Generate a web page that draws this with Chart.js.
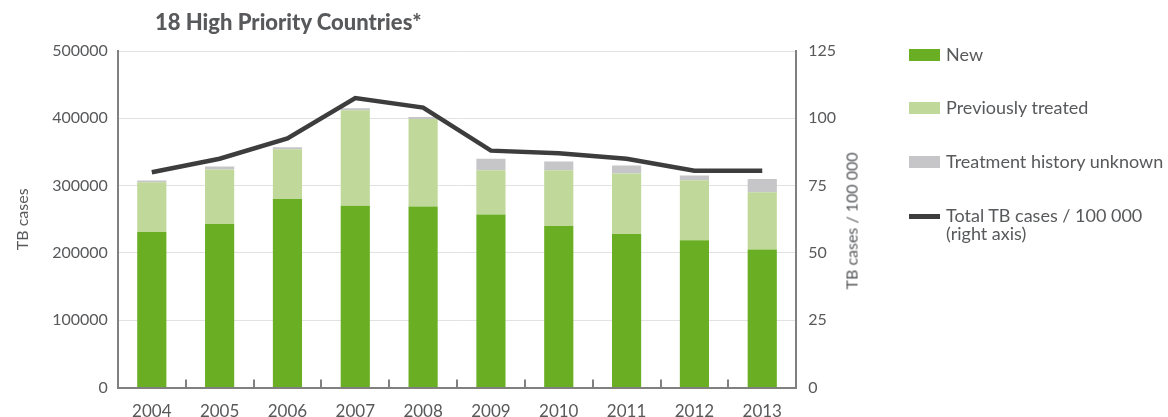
<!DOCTYPE html>
<html>
<head>
<meta charset="utf-8">
<script src="https://cdn.jsdelivr.net/npm/chart.js@4.4.0/dist/chart.umd.min.js"></script>
<style>
  body { margin: 0; background: #fff; }
  #wrap { position: relative; width: 1168px; height: 417px; font-family: Lato, "Open Sans", sans-serif; color: #58595b; }
  #title { position: absolute; left: 155px; top: 8px; font-weight: 900; font-size: 22px; white-space: nowrap; }
  #chartBox { position: absolute; left: 0; top: 0; width: 1168px; height: 417px; }
  #rightTitle { position: absolute; left: 851px; top: 221px; font-size: 16px; font-weight: normal; white-space: nowrap;
                transform: translate(-50%, -50%) rotate(-90deg); }
  #legend { position: absolute; left: 909px; top: 0; font-size: 18px; }
  .item { position: absolute; left: 0; white-space: nowrap; }
  .sw { position: absolute; left: 0; width: 31px; }
  .txt { position: absolute; left: 37px; line-height: 18px; }
</style>
</head>
<body>
<div id="wrap">
  <div id="chartBox"><canvas id="tb"></canvas></div>
  <div id="title">18 High Priority Countries*</div>
  <div id="rightTitle">TB cases / 100 000</div>
  <div id="legend"></div>
</div>
<script>
// data
var years = ["2004", "2005", "2006", "2007", "2008", "2009", "2010", "2011", "2012", "2013"];
var newCases = [231000, 243000, 280000, 270000, 269000, 257000, 240000, 228000, 219000, 205000];
var prevTreated = [74000, 81000, 74000, 142000, 130000, 66000, 83000, 90000, 89000, 85000];
var historyUnknown = [2500, 4500, 3000, 3000, 3000, 17000, 13000, 12000, 7000, 20000];
var ratePer100k = [80, 85, 92.5, 107.5, 104, 88, 87, 85, 80.5, 80.5];

var leftTicks = [0, 100000, 200000, 300000, 400000, 500000];
var rightTicks = [0, 25, 50, 75, 100, 125];

var textColor = '#58595b';
var axisColor = '#808080';

// small tick marks pointing up into the plot, between the categories
var innerTicks = {
  id: 'innerTicks',
  afterDraw: function(chart) {
    var x = chart.scales.x, ctx = chart.ctx, bottom = chart.chartArea.bottom;
    ctx.save();
    ctx.strokeStyle = axisColor;
    ctx.lineWidth = 2;
    for (var i = 1; i < years.length; i++) {
      var px = Math.round((x.getPixelForValue(i - 1) + x.getPixelForValue(i)) / 2);
      ctx.beginPath();
      ctx.moveTo(px, bottom - 8);
      ctx.lineTo(px, bottom);
      ctx.stroke();
    }
    ctx.restore();
  }
};

var ctx = document.getElementById('tb').getContext('2d');
var chart = new Chart(ctx, {
  type: 'bar',
  data: {
    labels: years,
    datasets: [
      {
        type: 'line',
        label: 'Total TB cases / 100 000\n(right axis)',
        data: ratePer100k,
        yAxisID: 'y1',
        borderColor: '#3d3d3d',
        backgroundColor: '#3d3d3d',
        borderWidth: 4.5,
        pointRadius: 0,
        tension: 0,
        order: 0
      },
      {
        label: 'New',
        data: newCases,
        backgroundColor: '#6aaf23',
        stack: 's',
        order: 1
      },
      {
        label: 'Previously treated',
        data: prevTreated,
        backgroundColor: '#c0d99a',
        stack: 's',
        order: 1
      },
      {
        label: 'Treatment history unknown',
        data: historyUnknown,
        backgroundColor: '#c6c6c8',
        stack: 's',
        order: 1
      }
    ]
  },
  options: {
    responsive: true,
    maintainAspectRatio: false,
    animation: false,
    barPercentage: 0.43,
    categoryPercentage: 1,
    layout: { padding: { left: 13, right: 320, top: 51, bottom: -19 } },
    plugins: {
      legend: { display: false },
      tooltip: { enabled: false }
    },
    scales: {
      x: {
        stacked: true,
        grid: { display: true, drawOnChartArea: false, drawTicks: false, offset: true },
        border: { color: axisColor, width: 2 },
        ticks: { color: textColor, font: { family: 'Lato', size: 17 }, padding: 14 }
      },
      y: {
        stacked: true,
        min: 0,
        max: 500000,
        afterBuildTicks: function(s) { s.ticks = leftTicks.map(function(v) { return { value: v }; }); },
        grid: { color: '#e2e2e2', lineWidth: 1, drawTicks: false },
        border: { color: axisColor, width: 2 },
        ticks: { color: textColor, font: { family: 'Lato', size: 16 }, padding: 10, callback: function(v) { return String(v); } },
        title: { display: true, text: 'TB cases', color: textColor, font: { family: 'Lato', size: 16 }, padding: { top: 0, bottom: 10 } }
      },
      y1: {
        position: 'right',
        min: 0,
        max: 125,
        afterBuildTicks: function(s) { s.ticks = rightTicks.map(function(v) { return { value: v }; }); },
        grid: { drawOnChartArea: false, drawTicks: false },
        border: { color: axisColor, width: 2 },
        ticks: { color: textColor, font: { family: 'Lato', size: 16 }, padding: 12 }
      }
    }
  },
  plugins: [innerTicks]
});

// html legend built from the datasets
var legendRows = [
  { ds: 1, y: 55 },
  { ds: 2, y: 108 },
  { ds: 3, y: 162 },
  { ds: 0, y: 216 }
];
var legend = document.getElementById('legend');
legendRows.forEach(function(r) {
  var ds = chart.data.datasets[r.ds];
  var item = document.createElement('div');
  item.className = 'item';
  item.style.top = r.y + 'px';
  var sw = document.createElement('div');
  sw.className = 'sw';
  var isLine = ds.type === 'line';
  sw.style.height = (isLine ? 5 : 12) + 'px';
  sw.style.top = (isLine ? -2 : -6) + 'px';
  sw.style.background = isLine ? ds.borderColor : ds.backgroundColor;
  var txt = document.createElement('div');
  txt.className = 'txt';
  txt.style.top = '-10px';
  txt.innerHTML = ds.label.replace('\n', '<br>');
  item.appendChild(sw);
  item.appendChild(txt);
  legend.appendChild(item);
});
</script>
</body>
</html>
